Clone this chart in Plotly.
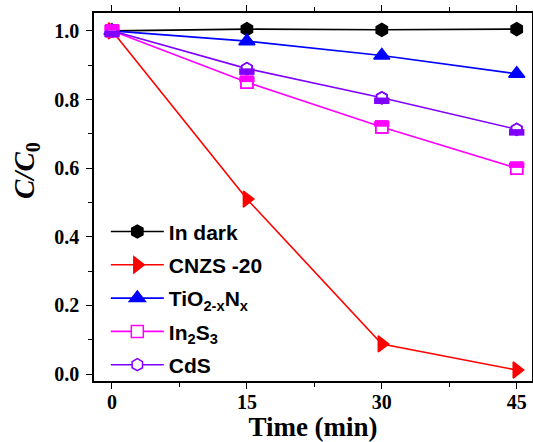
import plotly.graph_objects as go

time_min = [0, 15, 30, 45]
in_dark = [1.0, 1.005, 1.003, 1.005]
cnzs_20 = [1.0, 0.51, 0.088, 0.012]
tio2_n = [1.0, 0.97, 0.928, 0.875]
in2s3 = [1.0, 0.85, 0.72, 0.60]
cds = [1.0, 0.89, 0.805, 0.713]

series = [
    ("In dark", in_dark, "#000000", "hexagon", 13, "#000000"),
    ("CNZS -20", cnzs_20, "#FF0000", "triangle-right", 14, "#FF0000"),
    ("TiO<sub>2-x</sub>N<sub>x</sub>", tio2_n, "#0000FF", "triangle-up", 14, "#0000FF"),
    ("In<sub>2</sub>S<sub>3</sub>", in2s3, "#FF00FF", "square", 12, "#FFFFFF"),
    ("CdS", cds, "#8000FF", "hexagon", 12, "#FFFFFF"),
]

W, H = 533, 442
ML, MR, MT, MB = 94, 1, 13, 61
YR = [-0.02, 1.052]
px = (YR[1] - YR[0]) / (H - MT - MB)  # data units per pixel

fig = go.Figure()
for i, (name, y, color, sym, size, fill) in enumerate(series):
    fig.add_trace(go.Scatter(
        x=time_min, y=y, name=name, mode="lines+markers", legendgroup=f"g{i}",
        line=dict(color=color, width=1.6),
        marker=dict(symbol=sym, size=size, color=fill,
                    line=dict(color=color, width=1.5)),
    ))

# half-fill overlays: In2S3 top half (axis shifted up), CdS bottom half (axis shifted down)
fig.add_trace(go.Scatter(x=time_min, y=in2s3, mode="markers", showlegend=False, yaxis="y2",
                         marker=dict(symbol="line-ew-open", size=11, color="#FF00FF",
                                     line=dict(color="#FF00FF", width=5.5)),
                         hoverinfo="skip"))
fig.add_trace(go.Scatter(x=time_min, y=cds, mode="markers", showlegend=False, yaxis="y3",
                         marker=dict(symbol="line-ew-open", size=11, color="#8000FF",
                                     line=dict(color="#8000FF", width=6.5)),
                         hoverinfo="skip"))
# redraw outlines
fig.add_trace(go.Scatter(x=time_min, y=in2s3, mode="markers", showlegend=False,
                         marker=dict(symbol="square-open", size=12, color="#FF00FF",
                                     line=dict(color="#FF00FF", width=1.5)),
                         hoverinfo="skip"))
fig.add_trace(go.Scatter(x=time_min, y=cds, mode="markers", showlegend=False,
                         marker=dict(symbol="hexagon-open", size=12, color="#8000FF",
                                     line=dict(color="#8000FF", width=1.5)),
                         hoverinfo="skip"))

axis_common = dict(
    showline=True, linecolor="#000000", linewidth=1.5, mirror="ticks",
    ticks="outside", ticklen=6, tickwidth=1.3, tickcolor="#000000",
    showgrid=False, zeroline=False, automargin=False,
    tickfont=dict(family="Liberation Serif", size=20, color="#000000", weight="bold"),
)
hidden = dict(overlaying="y", visible=False, showgrid=False, zeroline=False, fixedrange=True)

fig.update_layout(
    width=W, height=H,
    margin=dict(l=ML, r=MR, t=MT, b=MB),
    paper_bgcolor="white", plot_bgcolor="white",
    xaxis=dict(range=[-2, 46.7], tickvals=[0, 15, 30, 45], ticklabelstandoff=-4,
               minor=dict(tickvals=[7.5, 22.5, 37.5], ticks="outside", ticklen=4, tickcolor="#000000"),
               title=dict(text="<b>Time (min)</b>", standoff=4,
                          font=dict(family="Liberation Serif", size=27, color="#000000")),
               **axis_common),
    yaxis=dict(range=YR, tickvals=[0, 0.2, 0.4, 0.6, 0.8, 1.0], tickformat=".1f", ticklabelstandoff=3,
               minor=dict(tickvals=[0.1, 0.3, 0.5, 0.7, 0.9], ticks="outside", ticklen=4, tickcolor="#000000"),
               **axis_common),
    yaxis2=dict(range=[YR[0] - 3 * px, YR[1] - 3 * px], **hidden),
    yaxis3=dict(range=[YR[0] + 3 * px, YR[1] + 3 * px], **hidden),
    legend=dict(x=0.027, y=0.461, xanchor="left", yanchor="top",
                bgcolor="rgba(0,0,0,0)", borderwidth=0, itemwidth=53, tracegroupgap=3,
                font=dict(family="Liberation Sans", size=21, color="#000000", weight="bold")),
    showlegend=True,
    annotations=[dict(text="<b><i>C/C</i><sub>0</sub></b>", xref="paper", yref="paper",
                      x=-0.155, y=0.571, xanchor="center", yanchor="middle", textangle=-90,
                      showarrow=False,
                      font=dict(family="Liberation Serif", size=29, color="#000000"))],
)

fig.write_html("out.html", config={"displayModeBar": False},
               post_script="document.body.style.margin='0';document.body.style.overflow='hidden';")
